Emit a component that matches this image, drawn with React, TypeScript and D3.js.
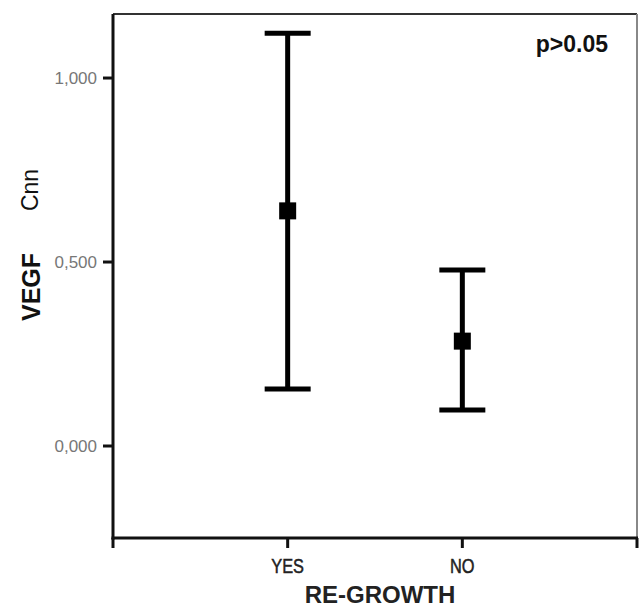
import * as d3 from 'd3';

// group labels and interval values (mean with 95% CI)
const groups = ['YES', 'NO'];
const means = [0.639, 0.285];
const lowers = [0.155, 0.098];
const uppers = [1.122, 0.478];
const yTicks = [0, 0.5, 1];
const yTickLabels = ['0,000', '0,500', '1,000'];

const W = 640;
const H = 607;
const left = 113;
const right = 637;
const top = 14;
const bottom = 538;

export default function App() {
    // x axis has an empty slot on both ends, like SPSS
    const x = d3.scalePoint<string>().domain(['_a', ...groups, '_b']).range([left, right]);
    const y = d3.scaleLinear().domain([-0.25, 1.174]).range([bottom, top]);

    const capW = 46;
    const sq = 17;

    return (
        <svg width={W} height={H} style={{ position: 'absolute', left: 0, top: 0, background: '#fff' }} fontFamily="Arial, 'Liberation Sans', sans-serif">
            {/* frame */}
            <line x1={left} x2={right} y1={top} y2={top} stroke="#333" strokeWidth={2} />
            <line x1={right} x2={right} y1={top} y2={bottom} stroke="#888" strokeWidth={2} />
            <line x1={left} x2={left} y1={top} y2={bottom + 1.5} stroke="#111" strokeWidth={3} />
            <line x1={left - 1.5} x2={right + 1} y1={bottom} y2={bottom} stroke="#111" strokeWidth={3} />

            {/* y ticks */}
            {yTicks.map((t, i) => (
                <g key={t}>
                    <line x1={left - 10} x2={left} y1={y(t)} y2={y(t)} stroke="#111" strokeWidth={3} />
                    <text x={left - 16} y={y(t)} dy="0.36em" textAnchor="end" fontSize={17} fill="#777">
                        {yTickLabels[i]}
                    </text>
                </g>
            ))}

            {/* x ticks */}
            {x.domain().map((d) => (
                <g key={d}>
                    <line x1={x(d)} x2={x(d)} y1={bottom} y2={bottom + 10} stroke="#111" strokeWidth={3} />
                    {!d.startsWith('_') && (
                        <text x={x(d)} y={573} textAnchor="middle" fontSize={21} fill="#222" stroke="#222" strokeWidth={0.5} transform={`translate(${x(d)},0) scale(0.78,1) translate(${-x(d)!},0)`}>
                            {d}
                        </text>
                    )}
                </g>
            ))}

            {/* error bars */}
            {groups.map((g, i) => {
                const cx = x(g)!;
                return (
                    <g key={g}>
                        <line x1={cx} x2={cx} y1={y(uppers[i])} y2={y(lowers[i])} stroke="#000" strokeWidth={5} />
                        <line x1={cx - capW / 2} x2={cx + capW / 2} y1={y(uppers[i])} y2={y(uppers[i])} stroke="#000" strokeWidth={5} />
                        <line x1={cx - capW / 2} x2={cx + capW / 2} y1={y(lowers[i])} y2={y(lowers[i])} stroke="#000" strokeWidth={5} />
                        <rect x={cx - sq / 2} y={y(means[i]) - sq / 2} width={sq} height={sq} fill="#000" />
                    </g>
                );
            })}

            {/* annotation */}
            <text x={608} y={52} textAnchor="end" fontSize={23} fontWeight="bold" fill="#111">
                p&gt;0.05
            </text>

            {/* axis titles */}
            <text transform="translate(40,287) rotate(-90)" textAnchor="middle" fontSize={25} fontWeight="bold" fill="#111">
                VEGF
            </text>
            <text transform="translate(38,190) rotate(-90)" textAnchor="middle" fontSize={23} fill="#111">
                Cnn
            </text>
            <text x={380} y={603} textAnchor="middle" fontSize={24} fontWeight="bold" fill="#222">
                RE-GROWTH
            </text>
        </svg>
    );
}
